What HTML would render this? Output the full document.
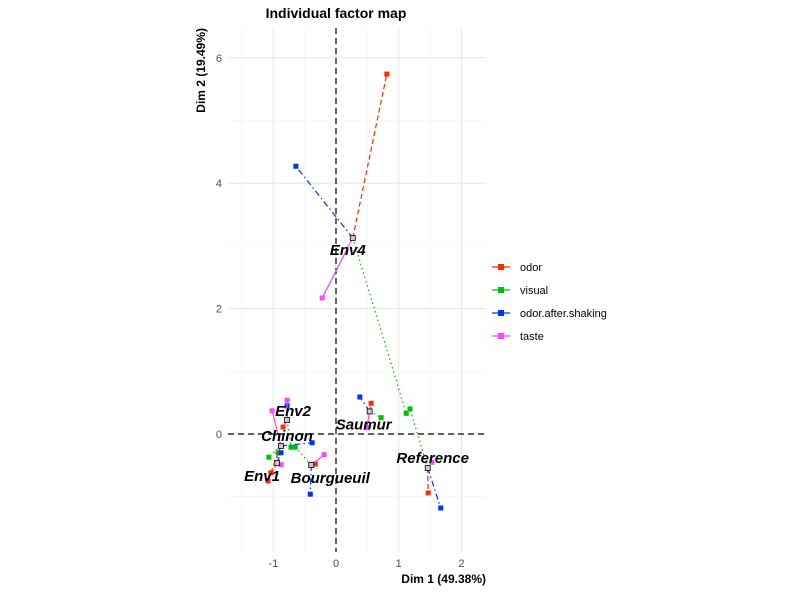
<!DOCTYPE html>
<html><head><meta charset="utf-8"><style>
html,body{margin:0;padding:0;background:#fff;}
svg{display:block;font-family:"Liberation Sans",Arial,sans-serif;}
</style></head><body>
<svg id="chart" width="808" height="594" viewBox="0 0 808 594">
<text x="336" y="18" text-anchor="middle" font-size="14" font-weight="bold" fill="#000">Individual factor map</text>
<rect x="228" y="28" width="258" height="524" fill="#fff"/>
<g id="grid"></g><g id="axes"></g><g id="series"></g><g id="labels"></g>
<text x="486" y="583" text-anchor="end" font-size="12" font-weight="bold" fill="#000">Dim 1 (49.38%)</text>
<text transform="translate(205,28) rotate(-90)" text-anchor="end" font-size="12" font-weight="bold" fill="#000">Dim 2 (19.49%)</text>
<g id="legend"></g>
</svg>
<script>
const individuals=["Env1","Env2","Env4","Chinon","Bourgueuil","Reference","Saumur"];
const groups=["odor","visual","odor.after.shaking","taste"];
const odorX=[-1.085,-0.845,0.81,-1.04,-0.33,1.47,0.56];
const odorY=[-0.75,0.11,5.74,-0.62,-0.48,-0.94,0.49];
const visualX=[-0.925,-0.718,1.12,-1.07,-0.65,1.18,0.72];
const visualY=[-0.30,-0.21,0.33,-0.37,-0.21,0.40,0.26];
const shakeX=[-0.877,-0.78,-0.64,-0.38,-0.41,1.67,0.38];
const shakeY=[-0.30,0.45,4.27,-0.14,-0.96,-1.18,0.59];
const tasteX=[-0.877,-0.78,-0.22,-1.02,-0.19,1.53,0.49];
const tasteY=[-0.49,0.54,2.17,0.37,-0.33,-0.45,0.10];
const xTicks=[-1,0,1,2];
const yTicks=[0,2,4,6];
const NS="http://www.w3.org/2000/svg";
const X=v=>336+62.7*v, Y=v=>434-62.7*v;
const colors=["#ff2a00","#00c000","#0033ff","#ff44ff"];
const dashes=["5,3","1.5,3","6,3,1.5,3",""];
const labelDx=[-15,6,-5,6,19,5,-6];
const labelDy=[13,-9,12,-10,13,-10,13];
function mk(tag,attrs,parent){const e=document.createElementNS(NS,tag);for(const k in attrs)e.setAttribute(k,attrs[k]);parent.appendChild(e);return e;}
const grid=document.getElementById('grid');
[-1.5,-0.5,0.5,1.5].forEach(v=>{const l=mk('line',{x1:X(v),x2:X(v),y1:28,y2:552,stroke:'#f2f2f2','stroke-width':0.6},grid);

});
[-1,1,3,5].forEach(v=>{const l=mk('line',{x1:228,x2:486,y1:Y(v),y2:Y(v),stroke:'#f2f2f2','stroke-width':0.6},grid);

});
xTicks.forEach(v=>{const l=mk('line',{x1:X(v),x2:X(v),y1:28,y2:552,stroke:'#e6e6e6','stroke-width':1},grid);


const t=mk('text',{x:X(v),y:567,'text-anchor':'middle','font-size':11,fill:'#4d4d4d'},grid);t.textContent=v;

});
yTicks.forEach(v=>{const l=mk('line',{x1:228,x2:486,y1:Y(v),y2:Y(v),stroke:'#e6e6e6','stroke-width':1},grid);


const t=mk('text',{x:222,y:Y(v)+4,'text-anchor':'end','font-size':11,fill:'#4d4d4d'},grid);t.textContent=v;

});
const axes=document.getElementById('axes');
let a=mk('line',{x1:X(0),x2:X(0),y1:28,y2:552,stroke:'#000','stroke-width':1.2,'stroke-dasharray':'6,4'},axes);


a=mk('line',{x1:228,x2:486,y1:Y(0),y2:Y(0),stroke:'#000','stroke-width':1.2,'stroke-dasharray':'6,4'},axes);


const GX=[odorX,visualX,shakeX,tasteX], GY=[odorY,visualY,shakeY,tasteY];
const ser=document.getElementById('series'), lab=document.getElementById('labels');
individuals.forEach((name,i)=>{
  let cx=0,cy=0;for(let g=0;g<4;g++){cx+=GX[g][i]/4;cy+=GY[g][i]/4;}
  for(let g=0;g<4;g++){
    const px=X(GX[g][i]),py=Y(GY[g][i]);
    const ln=mk('line',{x1:X(cx),y1:Y(cy),x2:px,y2:py,stroke:colors[g],'stroke-width':1.2,'stroke-dasharray':dashes[g]},ser);
    
    
    const p=mk('rect',{x:px-2.5,y:py-2.5,width:5,height:5,fill:colors[g]},ser);
    
    
  }
  const c=mk('rect',{x:X(cx)-2.5,y:Y(cy)-2.5,width:5,height:5,fill:'#ccc',stroke:'#000','stroke-width':0.8},ser);
  
  
  const t=mk('text',{x:X(cx)+labelDx[i],y:Y(cy)+labelDy[i]+5,'text-anchor':'middle','font-size':15,'font-weight':'bold','font-style':'italic',fill:'#000'},lab);
  t.textContent=name;
  
  
});
const leg=document.getElementById('legend');
groups.forEach((g,k)=>{const y=267+23*k;
  const gg=mk('g',{},leg);
  
  
  mk('line',{x1:492,x2:510,y1:y,y2:y,stroke:colors[k],'stroke-width':1.2},gg);
  mk('rect',{x:498,y:y-3,width:6,height:6,fill:colors[k]},gg);
  const t=mk('text',{x:520,y:y+4,'font-size':11,fill:'#000'},gg);t.textContent=g;});
</script>
</body></html>
